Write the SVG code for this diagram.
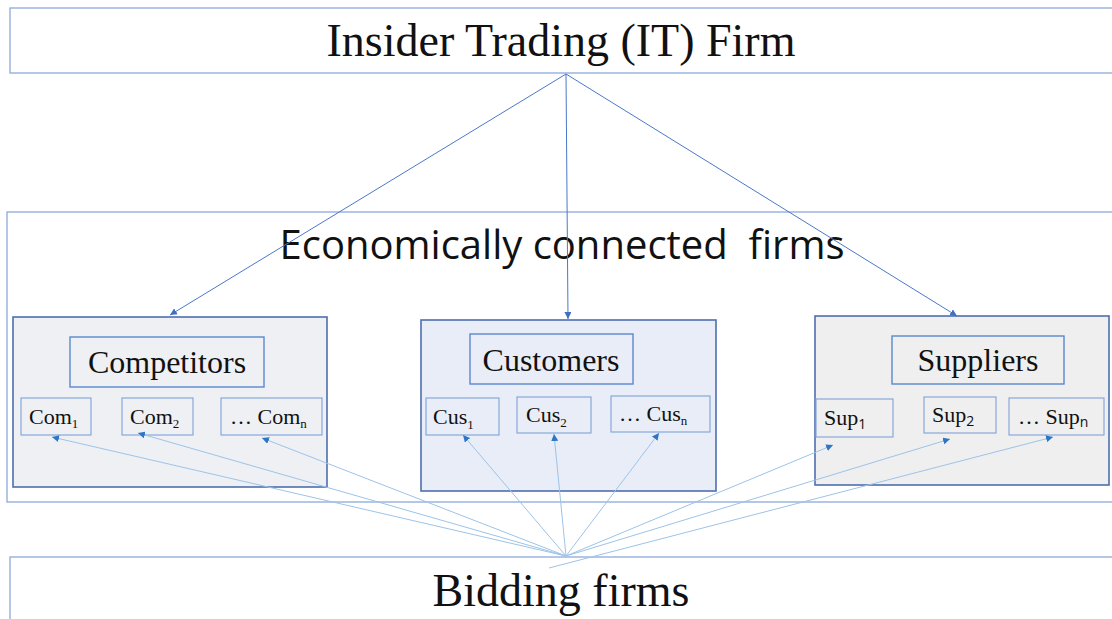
<svg xmlns="http://www.w3.org/2000/svg" width="1112" height="619" viewBox="0 0 1112 619">
<style>
.frame{fill:#ffffff;stroke:#8eaadb;stroke-width:1.3}
.grp{stroke:#4f6fae;stroke-width:1.6}
.lbl{fill:none;stroke:#5b88cf;stroke-width:1.4}
.sub{fill:none;stroke:#7fa2d8;stroke-width:1.1}
.serif{font-family:"Liberation Serif","Times New Roman",serif;fill:#111}
.sans{font-family:"Open Sans","Noto Sans",sans-serif;fill:#111}
.top{stroke:#4a78c9;stroke-width:1;fill:none}
.bot{stroke:#9cc3e8;stroke-width:1;fill:none}
</style>
<defs>
<marker id="ah" viewBox="0 0 10 10" refX="10" refY="5" markerWidth="7" markerHeight="7" markerUnits="userSpaceOnUse" orient="auto">
<path d="M0,0 L10,5 L0,10 z" fill="#3f6fc0"/>
</marker>
<marker id="ab" viewBox="0 0 10 10" refX="10" refY="5" markerWidth="7" markerHeight="7" markerUnits="userSpaceOnUse" orient="auto">
<path d="M0,0 L10,5 L0,10 z" fill="#2e75c6"/>
</marker>
</defs>
<rect width="1112" height="619" fill="#ffffff"/>

<g id="it-firm">
<rect class="frame" x="10" y="8" width="1110" height="65"/>
<text class="serif" x="561" y="56" font-size="46" text-anchor="middle">Insider Trading (IT) Firm</text>
</g>

<g id="econ">
<rect class="frame" x="7" y="212" width="1113" height="290"/>
<text class="sans" x="562" y="259" font-size="41" text-anchor="middle" textLength="565" lengthAdjust="spacingAndGlyphs">Economically connected&#160; firms</text>
</g>

<g id="bidding">
<rect class="frame" x="10" y="557" width="1110" height="70"/>
<text class="serif" x="561" y="606" font-size="46" text-anchor="middle">Bidding firms</text>
</g>

<g id="competitors">
<rect class="grp" x="13" y="317" width="314" height="170" fill="#eef0f4"/>
<rect class="lbl" x="70" y="337" width="194" height="50"/>
<text class="serif" x="167" y="373" font-size="32" text-anchor="middle">Competitors</text>
<rect class="sub" x="21" y="398" width="70" height="37"/>
<text class="serif" x="29" y="424" font-size="22">Com<tspan font-size="13" dy="4">1</tspan></text>
<rect class="sub" x="122" y="398" width="71" height="37"/>
<text class="serif" x="130" y="424" font-size="22">Com<tspan font-size="13" dy="4">2</tspan></text>
<rect class="sub" x="221" y="398" width="101" height="37"/>
<text class="serif" x="230" y="424" font-size="22">… Com<tspan font-size="13" dy="4">n</tspan></text>
</g>

<g id="customers">
<rect class="grp" x="421" y="320" width="295" height="171" fill="#e9edf7"/>
<rect class="lbl" x="470" y="334" width="163" height="50"/>
<text class="serif" x="551" y="371" font-size="32" text-anchor="middle">Customers</text>
<rect class="sub" x="426" y="398" width="73" height="37"/>
<text class="serif" x="433" y="424" font-size="22">Cus<tspan font-size="13" dy="5">1</tspan></text>
<rect class="sub" x="517" y="397" width="74" height="36"/>
<text class="serif" x="526" y="422" font-size="22">Cus<tspan font-size="13" dy="5">2</tspan></text>
<rect class="sub" x="611" y="396" width="99" height="36"/>
<text class="serif" x="619" y="421" font-size="22">… Cus<tspan font-size="13" dy="4">n</tspan></text>
</g>

<g id="suppliers">
<rect class="grp" x="815" y="316" width="294" height="169" fill="#efefef"/>
<rect class="lbl" x="892" y="336" width="172" height="48"/>
<text class="serif" x="978" y="371" font-size="32" text-anchor="middle">Suppliers</text>
<rect class="sub" x="816" y="399" width="77" height="38"/>
<text class="serif" x="824" y="425" font-size="22">Sup<tspan font-size="14" dy="4" class="sans">1</tspan></text>
<rect class="sub" x="924" y="397" width="72" height="36"/>
<text class="serif" x="932" y="422" font-size="22">Sup<tspan font-size="14" dy="4" class="sans">2</tspan></text>
<rect class="sub" x="1009" y="398" width="95" height="37"/>
<text class="serif" x="1018" y="424" font-size="22">… Sup<tspan font-size="14" dy="3" class="sans">n</tspan></text>
</g>

<g id="connectors">
<line class="top" x1="566" y1="74" x2="170" y2="315" marker-end="url(#ah)"/>
<line class="top" x1="566" y1="74" x2="568" y2="319" marker-end="url(#ah)"/>
<line class="top" x1="566" y1="74" x2="957" y2="316" marker-end="url(#ah)"/>
<line class="bot" x1="566" y1="556" x2="52" y2="437" marker-end="url(#ab)"/>
<line class="bot" x1="566" y1="556" x2="138" y2="433" marker-end="url(#ab)"/>
<line class="bot" x1="566" y1="556" x2="262" y2="438" marker-end="url(#ab)"/>
<line class="bot" x1="566" y1="556" x2="463" y2="435" marker-end="url(#ab)"/>
<line class="bot" x1="566" y1="556" x2="554" y2="434" marker-end="url(#ab)"/>
<line class="bot" x1="566" y1="556" x2="659" y2="433" marker-end="url(#ab)"/>
<line class="bot" x1="566" y1="556" x2="833" y2="445" marker-end="url(#ab)"/>
<line class="bot" x1="566" y1="556" x2="950" y2="439" marker-end="url(#ab)"/>
<line class="bot" x1="549" y1="568" x2="1053" y2="437" marker-end="url(#ab)"/>
</g>
</svg>
